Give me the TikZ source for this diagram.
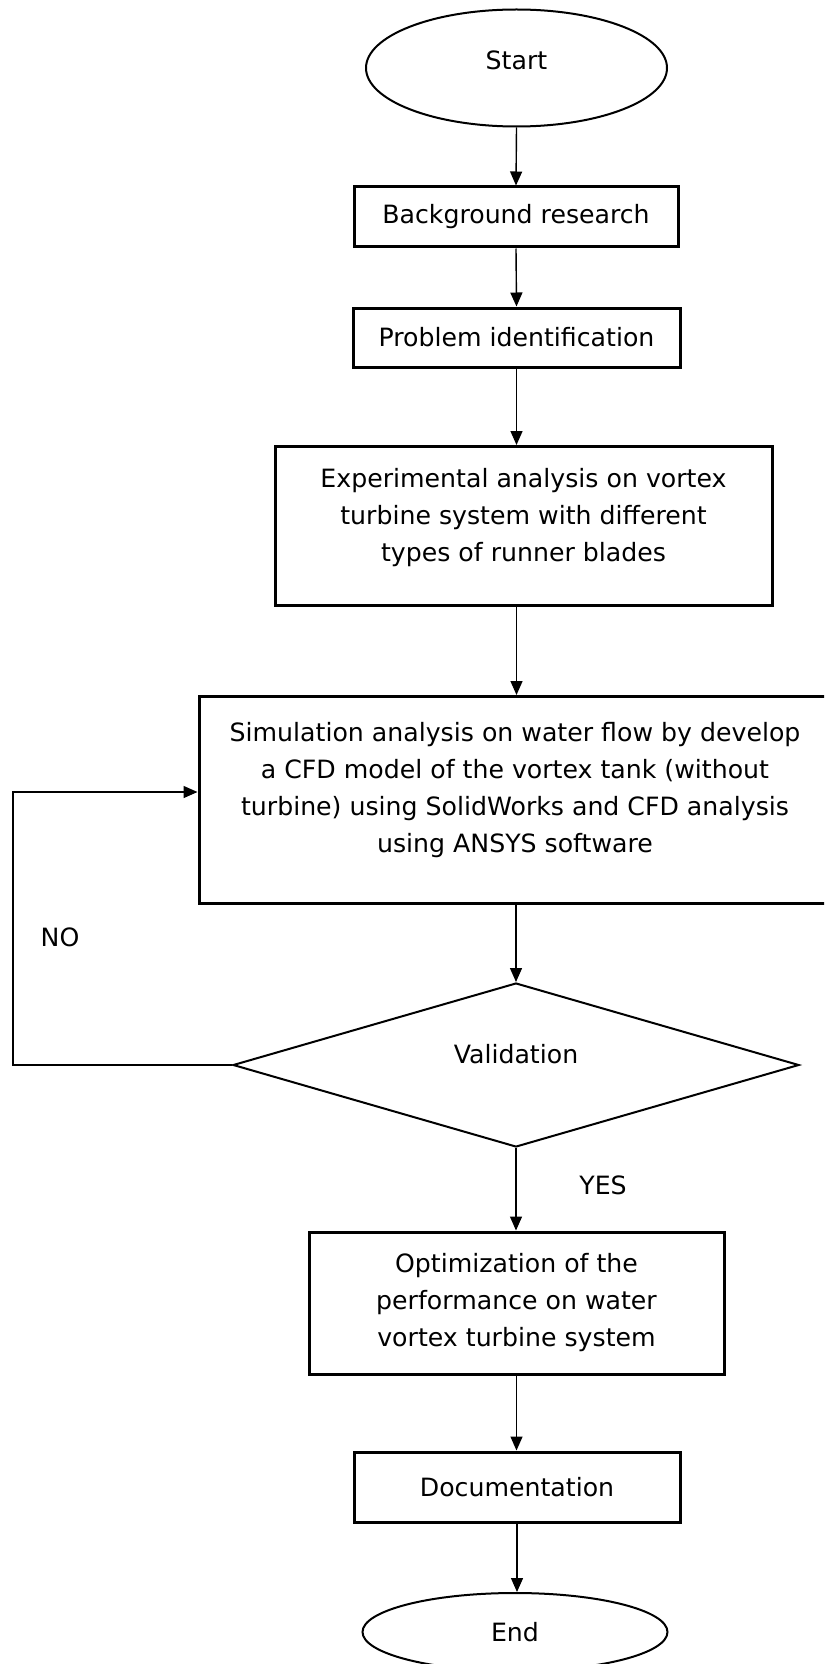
\documentclass[tikz,border=0pt]{standalone}
\usepackage{fontspec}
\setmainfont{DejaVu Sans}
\usetikzlibrary{arrows.meta, positioning, shapes.geometric}

\tikzset{
  procbox/.style={draw, line width=1.5pt, align=center, inner sep=0pt,
    font=\fontsize{12.6}{18.5}\selectfont},
  termnode/.style={draw, ellipse, line width=1pt, inner sep=0pt,
    font=\fontsize{12.6}{18.5}\selectfont},
  decnode/.style={draw, diamond, aspect=3.4, line width=1pt, inner sep=0pt,
    font=\fontsize{12.6}{18.5}\selectfont},
  flowarrow/.style={-{Triangle[length=7pt, width=6pt]}, line width=0.7pt},
  branchlabel/.style={font=\fontsize{12.6}{15}\selectfont},
}

\begin{document}
\begin{tikzpicture}[x=0.5pt, y=-0.5pt]
\clip (0,0) rectangle (824,1664);
% Terminals
\node[termnode, minimum width=150.5pt, minimum height=58.5pt, text depth=8pt] (start) at (516.5,68) {Start};
\node[termnode, minimum width=152.5pt, minimum height=39pt] (end) at (515,1632) {End};
% Process steps
\node[procbox, minimum width=162pt, minimum height=30pt] (bg) at (516,217)
     {Background research};
\node[procbox, minimum width=163.5pt, minimum height=29.5pt] (prob) at (516.5,337.5)
     {Problem identification};
\node[procbox, minimum width=248.5pt, minimum height=79.5pt, text depth=11.5pt] (exp) at (523.5,526)
     {Experimental analysis on vortex\\turbine system with different\\types of runner blades};
\node[procbox, minimum width=316pt, minimum height=103.5pt, text depth=12.6pt] (sim) at (515,800)
     {Simulation analysis on water flow by develop\\a CFD model of the vortex tank (without\\turbine) using SolidWorks and CFD analysis\\using ANSYS software};
% Decision
\node[decnode, minimum width=283pt, minimum height=82pt, text depth=11pt] (valid) at (516,1065) {Validation};
\node[procbox, minimum width=207.5pt, minimum height=71pt] (opt) at (516.5,1303)
     {Optimization of the\\performance on water\\vortex turbine system};
\node[procbox, minimum width=163pt, minimum height=35pt] (doc) at (517,1487)
     {Documentation};
% Main flow
\draw[flowarrow] (start.south) -- (bg.north);
\draw[flowarrow] (bg.south) -- (prob.north);
\draw[flowarrow] (prob.south) -- (prob.south |- exp.north);
\draw[flowarrow] (prob.south |- exp.south) -- (prob.south |- sim.north);
\draw[flowarrow] (valid.north |- sim.south) -- (valid.north);
\draw[flowarrow] (valid.south) -- (valid.south |- opt.north);
\draw[flowarrow] (opt.south) -- (opt.south |- doc.north);
\draw[flowarrow] (doc.south) -- (doc.south |- end.north);
% Loop back on NO
\coordinate (noturn) at (13,792);
\draw[flowarrow] (valid.west) -| (noturn) -- (noturn -| sim.west);
\node[branchlabel] (nolabel) at (60,937) {NO};
\node[branchlabel] (yeslabel) at (603,1185) {YES};
\end{tikzpicture}
\end{document}
